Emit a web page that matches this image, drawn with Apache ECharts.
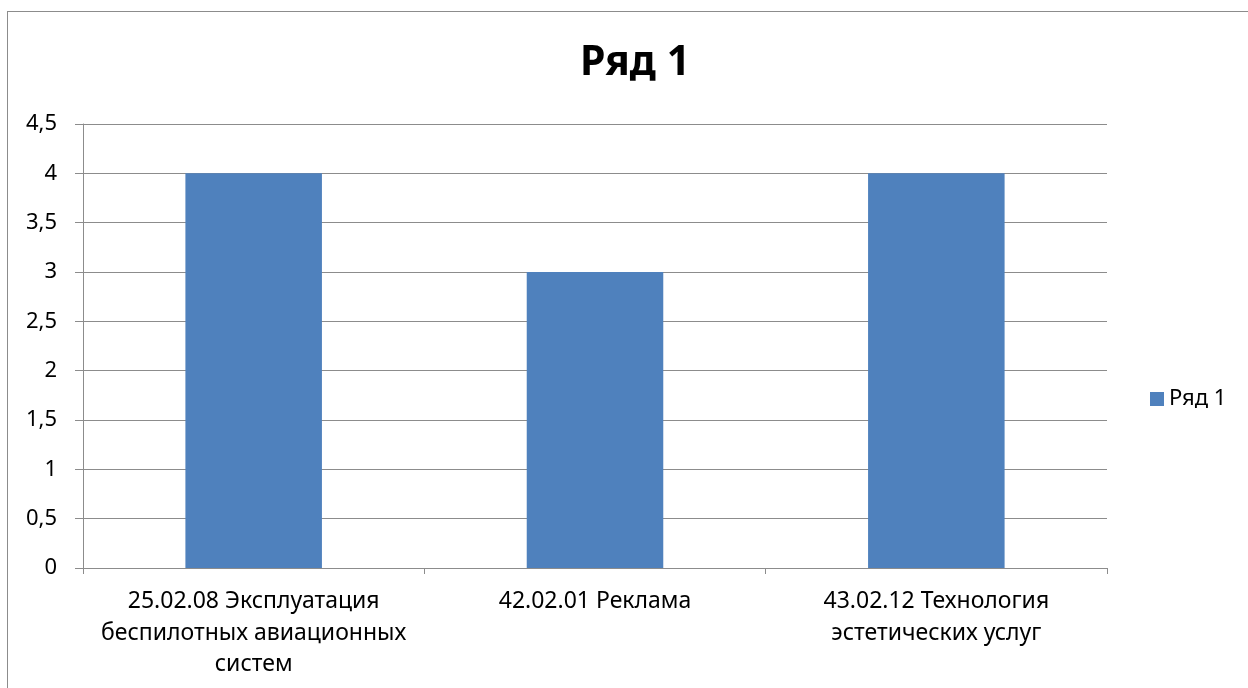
<!DOCTYPE html>
<html><head><meta charset="utf-8">
<script src="https://cdn.jsdelivr.net/npm/echarts@6/dist/echarts.min.js"></script>
<style>
html,body{margin:0;padding:0;background:#fff;overflow:hidden}
#frame{position:absolute;left:7px;top:11px;width:1400px;height:900px;border:1px solid #8c8c8c;box-sizing:border-box}
#c{position:absolute;left:0;top:0;width:1248px;height:688px}
</style></head>
<body>
<div id="frame"></div>
<div id="c"></div>
<script>
const categories = ["25.02.08 Эксплуатация\nбеспилотных авиационных\nсистем", "42.02.01 Реклама", "43.02.12 Технология\nэстетических услуг"];
const seriesName = "Ряд 1";
const values = [4, 3, 4];
const yTicks = ["0","0,5","1","1,5","2","2,5","3","3,5","4","4,5"];

const font = "Noto Sans, Liberation Sans, sans-serif";
const chart = echarts.init(document.getElementById('c'));
chart.setOption({
  animation: false,
  backgroundColor: 'transparent',
  title: {text: seriesName, left: 630, top: 38, textAlign: 'center',
    textStyle: {fontFamily: font, fontSize: 41, fontWeight: 'bold', color: '#000'}},
  legend: {orient: 'vertical', left: 1150, top: 388, padding: 0, itemWidth: 14, itemHeight: 14, itemGap: 5,
    icon: 'rect', textStyle: {fontFamily: font, fontSize: 22, color: '#000'}},
  grid: {left: 83, right: 141, top: 124, bottom: 120, containLabel: false},
  xAxis: {type: 'category', data: categories,
    axisLine: {lineStyle: {color: '#8c8c8c', width: 1}},
    axisTick: {show: true, length: 6, alignWithLabel: false, lineStyle: {color: '#8c8c8c'}},
    axisLabel: {fontFamily: font, fontSize: 23, color: '#000', lineHeight: 31.5, margin: 18, interval: 0}
  },
  yAxis: {type: 'value', min: 0, max: 4.5, interval: 0.5,
    axisLine: {show: true, lineStyle: {color: '#8c8c8c'}},
    axisTick: {show: true, length: 8, lineStyle: {color: '#8c8c8c'}},
    splitLine: {lineStyle: {color: '#8c8c8c', width: 1}},
    axisLabel: {fontFamily: font, fontSize: 22, color: '#000', margin: 26,
      formatter: v => yTicks[Math.round(v / 0.5)]}
  },
  series: [{name: seriesName, type: 'bar', data: values, barWidth: '40%',
    itemStyle: {color: '#4F81BD'}}]
});
</script>
</body></html>
